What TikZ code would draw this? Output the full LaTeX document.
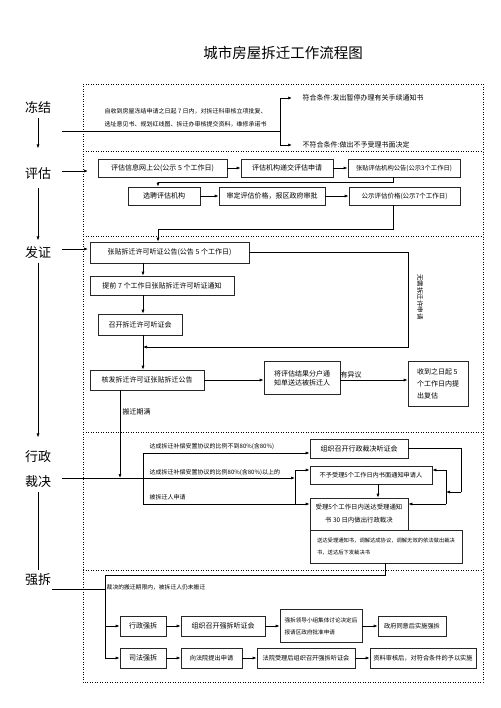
\documentclass[tikz,border=0pt]{standalone}
\usepackage{fontspec}
\setmainfont{Noto Sans CJK SC}
\usetikzlibrary{arrows.meta}
\begin{document}
\begin{tikzpicture}[x=1pt,y=-1pt,
    box/.style={draw=black!85,line width=0.7pt,inner sep=1pt,align=center,font=\fontsize{7}{9}\selectfont},
    sbox/.style={box,font=\fontsize{6.2}{8.5}\selectfont},
    arr/.style={-{Latex[length=4pt,width=3pt]},line width=0.7pt},
    ln/.style={line width=0.7pt},
    sep/.style={line width=0.9pt,dash pattern=on 0.9pt off 1.6pt},
    stage/.style={font=\fontsize{13}{15}\selectfont},
    lbl/.style={inner sep=0.5pt,font=\fontsize{6}{7.5}\selectfont}]
  \useasboundingbox (0,0) rectangle (500,708);
  % Title
  \node (title) at (283,53) {\fontsize{14.5}{16}\selectfont 城市房屋拆迁工作流程图};
  % Dotted frames
  \draw[sep] (83,84) rectangle (483,682);
  \foreach \y in {151,236,432,570} \draw[sep] (83,\y) -- (483,\y);
  % Stages
  \node[stage] (dj) at (38,108) {冻结};
  \node[stage] (pg) at (38,174) {评估};
  \node[stage] (fz) at (38,253) {发证};
  \node[stage] (xz) at (38,457) {行政};
  \node[stage] (cj) at (38,482) {裁决};
  \node[stage] (qc) at (38,580) {强拆};
  \draw[arr,shorten >=16pt] (dj) -- (pg);
  \draw[arr,shorten <=4pt,shorten >=3pt] (pg) -- (fz);
  \draw[arr,shorten >=10pt] (fz) -- (xz);
  \draw[ln] (cj) -- (qc);
  % Freeze
  \node[lbl,anchor=west,align=left,font=\fontsize{6}{13}\selectfont] (djtxt) at (104,117.5)
    {自收到房屋冻结申请之日起 7 日内，对拆迁科审核立项批复、\\选址意见书、规划红线图、拆迁办审核提交资料，维修承诺书};
  \node[lbl,anchor=west,font=\fontsize{7}{9}\selectfont] (ok) at (302,98) {符合条件:发出暂停办理有关手续通知书};
  \node[lbl,anchor=west,font=\fontsize{7}{9}\selectfont] (no) at (302,145) {不符合条件:做出不予受理书面决定};
  \coordinate (d0) at (62,131);
  \coordinate (d1) at (280,131);
  \draw[ln] (d0) -- (d1);
  \draw[arr] (d1) |- ([xshift=-10pt]ok.west);
  \draw[arr] (d1) |- ([xshift=-10pt]no.west);
  % Assessment
  \node[box,minimum width=129,minimum height=18] (pg1) at (162.5,168) {评估信息网上公(公示 5 个工作日)};
  \node[box,minimum width=92,minimum height=18] (pg2) at (287,168) {评估机构递交评估申请};
  \node[box,minimum width=112,minimum height=18,font=\fontsize{6.3}{8}\selectfont] (pg3) at (404,168) {张贴评估机构公告(公示3个工作日)};
  \node[box,minimum width=72,minimum height=18] (pg4) at (164,196) {选聘评估机构};
  \node[box,minimum width=106,minimum height=18] (pg5) at (272,196) {审定评估价格，报区政府审批};
  \node[box,minimum width=111,minimum height=18,font=\fontsize{6.5}{8}\selectfont] (pg6) at (404.5,196) {公示评估价格(公示7个工作日)};
  \coordinate (p0) at (62,171);
  \coordinate (p1) at (88,171);
  \draw[arr] (p0) -- (p1);
  \draw[arr] (pg1) -- (pg2);
  \draw[arr] (pg2) -- (pg3);
  \draw[arr] (pg4) -- (pg5);
  \draw[arr] (pg5) -- (pg6);
  \coordinate (k1) at (393,182);
  \coordinate (k2) at (158,182);
  \draw[arr] (pg3.south -| k1) -- (k1) -- (k2) -- (pg4.north -| k2);
  \coordinate (k3) at (393,229);
  \coordinate (k4) at (158,229);
  % Permit
  \node[box,minimum width=159,minimum height=21] (fz1) at (169.5,252.5) {张贴拆迁许可听证公告(公告 5 个工作日)};
  \node[box,minimum width=144,minimum height=19] (fz2) at (162,285.5) {提前 7 个工作日张贴拆迁许可听证通知};
  \node[box,minimum width=84,minimum height=21] (fz3) at (140,324.5) {召开拆迁许可听证会};
  \node[box,minimum width=114,minimum height=20] (fz4) at (147,380) {核发拆迁许可证张贴拆迁公告};
  \node[box,minimum width=76,minimum height=33,align=left] (fz5) at (302,378) {将评估结果分户通\\知单送达被拆迁人};
  \node[box,minimum width=60,minimum height=45,align=left,font=\fontsize{7}{12}\selectfont] (fz6) at (438,383.5) {收到之日起 5\\个工作日内提\\出复估};
  \draw[arr] (pg6.south -| k3) -- (k3) -- (k4) -- (fz1.north -| k4);
  \coordinate (f0) at (62,249);
  \coordinate (f1) at (88,249);
  \draw[arr] (f0) -- (f1);
  \coordinate (fx) at (143,347);
  \draw[arr] (fz1.south -| fx) -- (fz2.north -| fx);
  \draw[arr] (fz2.south -| fx) -- (fz3.north -| fx);
  \draw[arr] (fz3.south -| fx) -- (fz4.north -| fx);
  \coordinate (k5) at (408,252.5);
  \coordinate (k6) at (408,347);
  \draw[arr] (fz1.east) -- (k5) -- (k6) -- (fx);
  \node[lbl,rotate=-90,font=\fontsize{6.5}{8}\selectfont] (wx) at (420,297) {无需拆迁许申请};
  \draw[arr] (fz4.east) -- (fz4.east -| fz5.west);
  \draw[arr] (fz4.east -| fz5.east) -- (fz4.east -| fz6.west);
  \node[lbl,anchor=south west,font=\fontsize{7}{9}\selectfont] (yy) at (340,379) {有异议};
  \coordinate (c1) at (120,478);
  \draw[arr] (fz4.south -| c1) -- (c1);
  \node[lbl,anchor=west,font=\fontsize{7}{9}\selectfont] (bq) at (122,412) {搬迁期满};
  % Ruling
  \node[box,minimum width=98,minimum height=19] (cj1) at (359,448.5) {组织召开行政裁决听证会};
  \node[sbox,minimum width=122,minimum height=18] (cj2) at (371,475) {不予受理5个工作日内书面通知申请人};
  \node[sbox,minimum width=98,minimum height=32,font=\fontsize{6.4}{13}\selectfont] (cj3) at (359,514) {受理5个工作日内送达受理通知\\书 30 日内做出行政裁决};
  \node[sbox,minimum width=152,minimum height=33,align=left,font=\fontsize{5.3}{12}\selectfont] (cj4) at (386,546.5) {送达受理通知书，调解达成协议，调解无效的依法做出裁决\\书，送达后下发裁决书};
  \coordinate (c0) at (62,478);
  \coordinate (c3) at (295,478);
  \draw[arr] (c0) -- (c3);
  \coordinate (c4) at (143,453);
  \coordinate (c5) at (143,504);
  \draw[ln] (c4) -- (c5);
  \draw[arr] (c4) -- (c4 -| cj1.west);
  \draw[arr] (c5) -- (c5 -| cj3.west);
  \coordinate (c6) at (295,470);
  \draw[ln] (c6) -- (c6 |- c5);
  \draw[arr] (c6) -- (c6 -| cj2.west);
  \node[lbl,anchor=south west] (t1) at (149,450) {达成拆迁补偿安置协议的比例不到80\%(含80\%)};
  \node[lbl,anchor=south west] (t2) at (149,476) {达成拆迁补偿安置协议的比例80\%(含80\%)以上的};
  \node[lbl,anchor=south west] (t3) at (149,501) {被拆迁人申请};
  \coordinate (r1) at (461,492);
  \coordinate (r2) at (446,492);
  \coordinate (r3) at (446,470);
  \coordinate (r4) at (446,504);
  \draw[ln] (cj1.east) -| (r1);
  \draw[arr] (r1) -- (r2);
  \draw[ln] (r3) -- (r4);
  \draw[arr] (r3) -- (r3 -| cj2.east);
  \draw[arr] (r4) -- (r4 -| cj3.east);
  \coordinate (n1) at (378,490);
  \draw[arr] (cj2.south -| n1) -- (cj3.north -| n1);
  % Enforcement
  \node[box,minimum width=46,minimum height=20] (qc1) at (143,626) {行政强拆};
  \node[box,minimum width=84,minimum height=20] (qc2) at (223,626) {组织召开强拆听证会};
  \node[sbox,minimum width=82,minimum height=33,align=left,font=\fontsize{5.6}{12}\selectfont] (qc3) at (321,626) {强拆领导小组集体讨论决定后\\报请区政府批准申请};
  \node[sbox,minimum width=68,minimum height=20] (qc4) at (412,626) {政府同意后实施强拆};
  \node[box,minimum width=46,minimum height=20] (qc5) at (143,658) {司法强拆};
  \node[sbox,minimum width=61,minimum height=20] (qc6) at (211.5,658) {向法院提出申请};
  \node[sbox,minimum width=98,minimum height=20] (qc7) at (306,658) {法院受理后组织召开强拆听证会};
  \node[sbox,minimum width=106,minimum height=20] (qc8) at (423,658) {资料审核后，对符合条件的予以实施};
  \coordinate (q1) at (385,575);
  \coordinate (q2) at (105,575);
  \coordinate (q3) at (105,658);
  \coordinate (q4) at (105,626);
  \draw[ln] (cj4.south -| q1) -- (q1) -- (q2) -- (q3);
  \draw[arr] (q4) -- (qc1.west);
  \draw[arr] (q3) -- (qc5.west);
  \coordinate (s0) at (52,589);
  \coordinate (s1) at (105,589);
  \draw[ln] (s0) -- (s1);
  \node[lbl,anchor=west,font=\fontsize{5.8}{7}\selectfont] (qt) at (106,587) {裁决的搬迁期限内，被拆迁人仍未搬迁};
  \foreach \a/\b in {qc1/qc2,qc2/qc3,qc3/qc4,qc5/qc6,qc6/qc7,qc7/qc8}
    \draw[arr] (\a) -- (\b);
\end{tikzpicture}
\end{document}
